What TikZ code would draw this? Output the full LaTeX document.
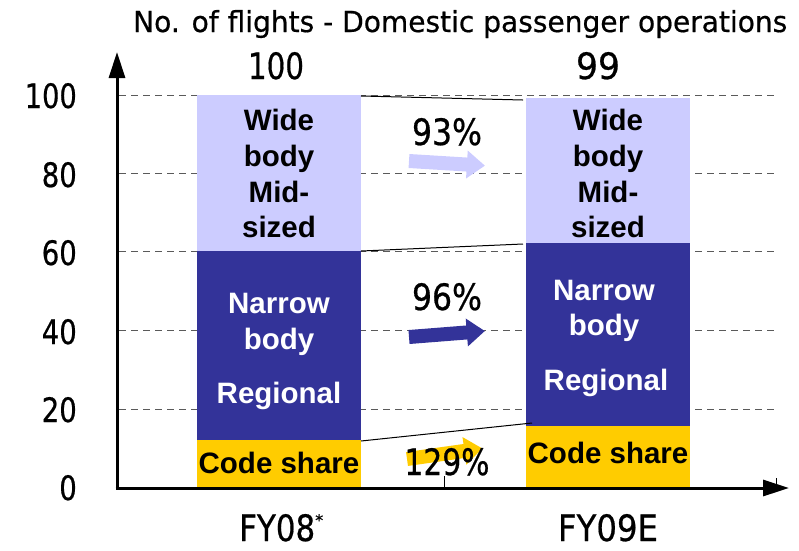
\documentclass[tikz,border=0pt]{standalone}
\usepackage{fontspec}
\setmainfont{DejaVu Sans}[FakeBold=0.6]
\newfontfamily\labfont{Liberation Sans}
\usepackage{graphicx}
\usetikzlibrary{arrows.meta}
\definecolor{lav}{RGB}{204,204,255}
\definecolor{navy}{RGB}{51,51,153}
\definecolor{gold}{RGB}{255,204,0}
\definecolor{gridgray}{RGB}{90,90,90}
\newcommand\fitbox[3]{\resizebox{#1}{#2}{#3}}
\newcommand\blockarrow[4]{%
  \begin{scope}[shift={(#2,#3)},rotate=#4]
    \fill[#1] (0,-7) -- (58,-7) -- (58,-14) -- (76,0) -- (58,14) -- (58,7) -- (0,7) -- cycle;
  \end{scope}}
\begin{document}
\begin{tikzpicture}[x=1pt,y=-1pt,
  txt/.style={inner sep=0pt,anchor=base},
  ylab/.style={inner sep=0pt,anchor=base east},
  blab/.style={inner sep=0pt,anchor=base,font=\labfont\bfseries\fontsize{29.5}{31}\selectfont},
  gridline/.style={gridgray,line width=1pt,dash pattern=on 7pt off 5pt},
  conn/.style={black,line width=1pt},
  axis/.style={black,line width=3pt,-{Triangle[length=26pt,width=16pt]}},
  tick/.style={black,line width=0.8pt}]
\useasboundingbox (0,0) rectangle (799,550);

% grid lines
\foreach \yy in {95,173,251,330,409}
  \draw[gridline] (119,\yy) -- (778,\yy);

% bars
\fill[lav]  (197,95)  rectangle (361,251);
\fill[navy] (197,251) rectangle (361,440);
\fill[gold] (197,440) rectangle (361,488);
\fill[lav]  (526,98)  rectangle (690,243);
\fill[navy] (526,243) rectangle (690,426);
\fill[gold] (526,426) rectangle (690,488);

% connector end points
\coordinate (b1top) at (361,96);
\coordinate (b2top) at (523,100);
\coordinate (b1mid) at (361,251);
\coordinate (b2mid) at (523,244);
\coordinate (b1low) at (361,441);
\coordinate (b2low) at (532,423);
\draw[conn] (b1top) -- (b2top);
\draw[conn] (b1mid) -- (b2mid);
\draw[conn] (b1low) -- (b2low);

% block arrows
\blockarrow{lav}{409}{161}{-3.5}
\blockarrow{navy}{409}{337}{4.5}
\blockarrow{gold}{407}{459}{8}

% axes
\coordinate (orig) at (117,488);
\coordinate (ytip) at (117,52);
\coordinate (xtip) at (789,488);
\coordinate (t1a) at (444,476);
\coordinate (t1b) at (444,487);
\coordinate (t2a) at (776,478);
\coordinate (t2b) at (776,487);
\draw[tick] (t1a) -- (t1b);
\draw[tick] (t2a) -- (t2b);
\draw[axis] (orig) -- (ytip);
\draw[axis] ([xshift=-1.5pt]orig) -- (xtip);

% title and totals
\node[txt,anchor=base west] (title) at (133,32) {\fitbox{654pt}{22pt}{No. of flights - Domestic passenger operations}};
\node[txt] (tot1) at (276,79) {\fitbox{56pt}{27pt}{100}};
\node[txt] (tot2) at (598,79) {\fitbox{44pt}{27pt}{99}};

% y axis labels
\node[ylab] (y100) at (77,108) {\fitbox{52pt}{25pt}{100}};
\node[ylab] (y80) at (77,187) {\fitbox{35pt}{25pt}{80}};
\node[ylab] (y60) at (77,265) {\fitbox{35pt}{25pt}{60}};
\node[ylab] (y40) at (77,344) {\fitbox{35pt}{25pt}{40}};
\node[ylab] (y20) at (77,422) {\fitbox{35pt}{25pt}{20}};
\node[ylab] (y0) at (77,500) {\fitbox{17.5pt}{25pt}{0}};

% percentages
\node[txt] (p93) at (447,145) {\fitbox{70pt}{27pt}{93\%}};
\node[txt] (p96) at (447,310) {\fitbox{70pt}{27pt}{96\%}};
\node[txt] (p129) at (447,475) {\fitbox{85pt}{27pt}{129\%}};

% categories
\node[txt,anchor=base west] (fy08) at (239,541) {\fitbox{76pt}{27pt}{FY08}\raisebox{15pt}{\fontsize{16}{16}\selectfont *}};
\node[txt] (fy09) at (608,541) {\fitbox{100pt}{27pt}{FY09E}};

% bar labels, bar 1
\node[blab] (w1a) at (279,130) {Wide};
\node[blab] (w1b) at (279,166) {body};
\node[blab] (w1c) at (279,202) {Mid-};
\node[blab] (w1d) at (279,237) {sized};
\node[blab,text=white] (n1a) at (279,313) {Narrow};
\node[blab,text=white] (n1b) at (279,349) {body};
\node[blab,text=white] (n1c) at (279,403) {Regional};
\node[blab] (c1) at (279,473) {Code share};

% bar labels, bar 2
\node[blab] (w2a) at (608,130) {Wide};
\node[blab] (w2b) at (608,166) {body};
\node[blab] (w2c) at (608,202) {Mid-};
\node[blab] (w2d) at (608,237) {sized};
\node[blab,text=white] (n2a) at (604,300) {Narrow};
\node[blab,text=white] (n2b) at (604,335) {body};
\node[blab,text=white] (n2c) at (606,390) {Regional};
\node[blab] (c2) at (608,463) {Code share};
\end{tikzpicture}
\end{document}
